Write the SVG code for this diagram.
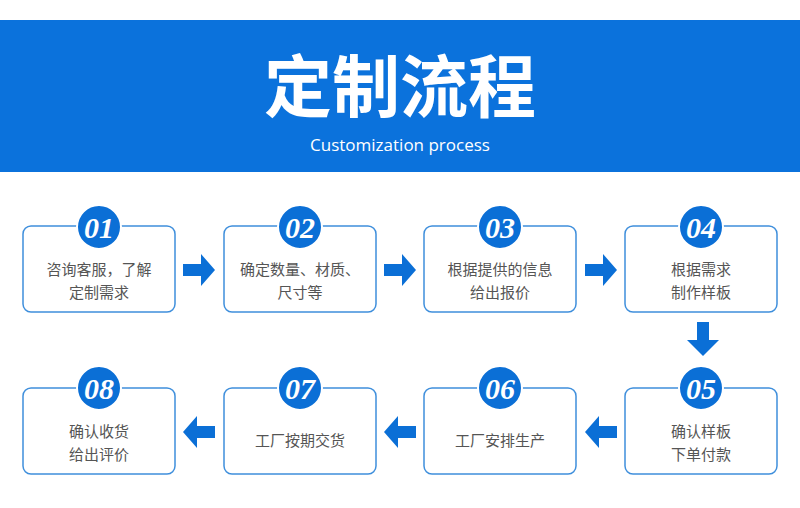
<svg xmlns="http://www.w3.org/2000/svg" width="800" height="508" viewBox="0 0 800 508">
<style>
.box{fill:#fff;stroke:#3f8fdc;stroke-width:1.5}
.c{fill:#0b6fd6;stroke:#fff;stroke-width:2}
.n{font-family:"Liberation Serif",serif;font-style:italic;font-weight:bold;font-size:30px;fill:#fff;text-anchor:middle}
.t{font-family:"Noto Sans CJK SC",sans-serif;font-size:15px;fill:#555;text-anchor:middle}
.a{fill:#0b6fd6}
</style>
<rect width="800" height="508" fill="#fff"/>
<rect x="0" y="20" width="800" height="152" fill="#0b72dc"/>
<text x="400" y="112" font-family="Noto Sans CJK SC,sans-serif" font-weight="bold" font-size="68" fill="#fff" text-anchor="middle">定制流程</text>
<text x="400" y="151" font-family="Open Sans,sans-serif" font-size="17" fill="#fff" text-anchor="middle">Customization process</text>
<g id="connectors">
<path class="a" d="M183 264h18v-10l14 16l-14 16v-10h-18z"/>
<path class="a" d="M384 264h18v-10l14 16l-14 16v-10h-18z"/>
<path class="a" d="M585 264h18v-10l14 16l-14 16v-10h-18z"/>
<path class="a" d="M697 322h12v18h10l-16 16l-16-16h10z"/>
<path class="a" d="M617 426h-18v-10l-14 16l14 16v-10h18z"/>
<path class="a" d="M416 426h-18v-10l-14 16l14 16v-10h18z"/>
<path class="a" d="M215 426h-18v-10l-14 16l14 16v-10h18z"/>
</g>
<g id="n1"><rect class="box" x="23" y="226" width="152" height="86" rx="8"/><circle class="c" cx="99" cy="227" r="22"/><text class="n" x="99" y="238">01</text><text class="t" x="99" y="275">咨询客服，了解</text><text class="t" x="99" y="298">定制需求</text></g>
<g id="n2"><rect class="box" x="224" y="226" width="152" height="86" rx="8"/><circle class="c" cx="300" cy="227" r="22"/><text class="n" x="300" y="238">02</text><text class="t" x="300" y="275">确定数量、材质、</text><text class="t" x="300" y="298">尺寸等</text></g>
<g id="n3"><rect class="box" x="424" y="226" width="152" height="86" rx="8"/><circle class="c" cx="500" cy="227" r="22"/><text class="n" x="500" y="238">03</text><text class="t" x="500" y="275">根据提供的信息</text><text class="t" x="500" y="298">给出报价</text></g>
<g id="n4"><rect class="box" x="625" y="226" width="152" height="86" rx="8"/><circle class="c" cx="701" cy="227" r="22"/><text class="n" x="701" y="238">04</text><text class="t" x="701" y="275">根据需求</text><text class="t" x="701" y="298">制作样板</text></g>
<g id="n5"><rect class="box" x="625" y="388" width="152" height="86" rx="8"/><circle class="c" cx="701" cy="388" r="22"/><text class="n" x="701" y="399">05</text><text class="t" x="701" y="437">确认样板</text><text class="t" x="701" y="460">下单付款</text></g>
<g id="n6"><rect class="box" x="424" y="388" width="152" height="86" rx="8"/><circle class="c" cx="500" cy="388" r="22"/><text class="n" x="500" y="399">06</text><text class="t" x="500" y="446">工厂安排生产</text></g>
<g id="n7"><rect class="box" x="224" y="388" width="152" height="86" rx="8"/><circle class="c" cx="300" cy="388" r="22"/><text class="n" x="300" y="399">07</text><text class="t" x="300" y="446">工厂按期交货</text></g>
<g id="n8"><rect class="box" x="23" y="388" width="152" height="86" rx="8"/><circle class="c" cx="99" cy="388" r="22"/><text class="n" x="99" y="399">08</text><text class="t" x="99" y="437">确认收货</text><text class="t" x="99" y="460">给出评价</text></g>
</svg>
